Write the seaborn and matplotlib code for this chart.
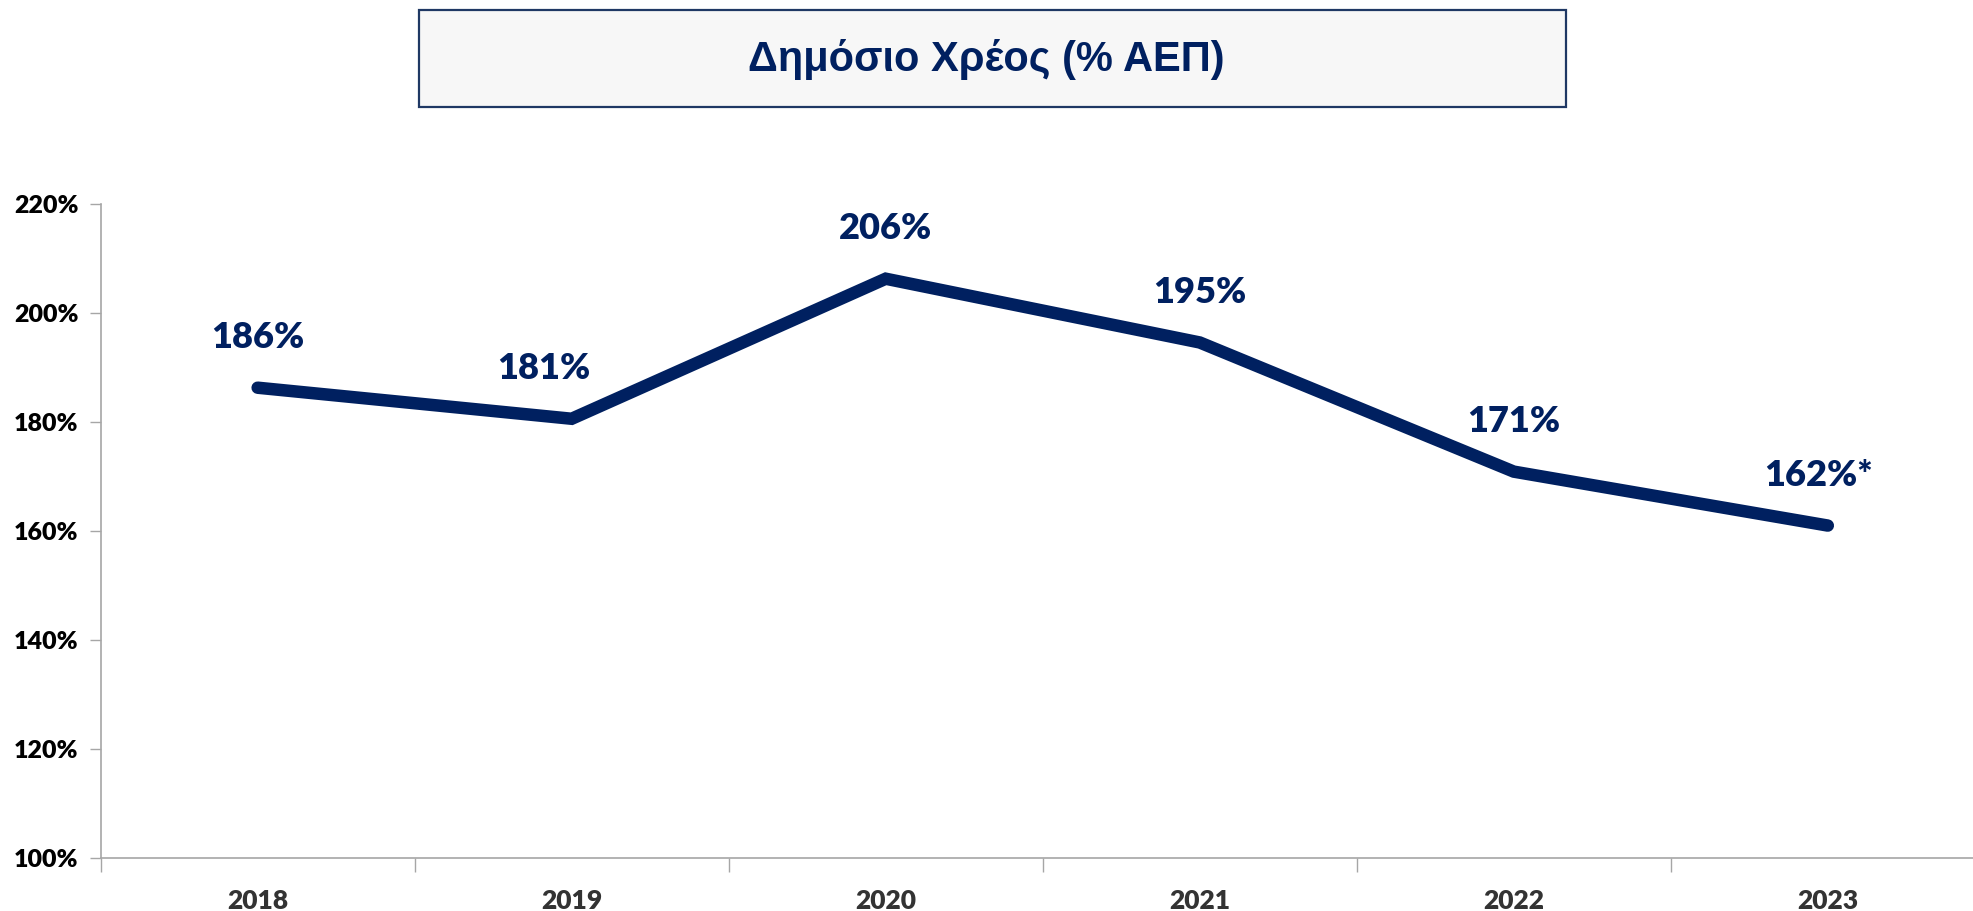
import pandas as pd
import matplotlib
matplotlib.use("Agg")
import matplotlib.pyplot as plt
from matplotlib.patches import Rectangle
from matplotlib.ticker import FixedLocator, FuncFormatter
import seaborn as sns

# ---- data ----
years = ["2018", "2019", "2020", "2021", "2022", "2023"]
debt_pct = [186.3, 180.6, 206.3, 194.6, 170.9, 161.0]
point_labels = ["186%", "181%", "206%", "195%", "171%", "162%*"]
label_shift = [0.0, -0.09, 0.0, 0.0, 0.0, -0.03]   # small manual nudges as in the original
y_ticks = [100, 120, 140, 160, 180, 200, 220]

navy = "#002060"

sns.set_style("white")
plt.rcParams['font.family'] = ['Lato', 'DejaVu Sans']

df = pd.DataFrame({"year": years, "debt": debt_pct})

fig = plt.figure(figsize=(19.73, 9.11), dpi=100)
ax = fig.add_axes([0.051, 0.0582, 0.955, 0.7178])

sns.lineplot(data=df, x="year", y="debt", ax=ax, color=navy, linewidth=9,
             solid_capstyle="round", solid_joinstyle="miter", sort=False)

for i, (v, lab) in enumerate(zip(debt_pct, point_labels)):
    ax.annotate(lab, (i + label_shift[i], v), xytext=(0, 24), textcoords="offset points",
                ha="center", va="bottom", fontsize=26, fontweight="heavy", color=navy)

ax.set_xlim(-0.5, len(years) - 0.5)
ax.set_ylim(100, 220)
ax.yaxis.set_major_locator(FixedLocator(y_ticks))
ax.yaxis.set_major_formatter(FuncFormatter(lambda v, p: f"{v:.0f}%"))
ax.xaxis.set_minor_locator(FixedLocator([i - 0.5 for i in range(len(years) + 1)]))

for s in ["top", "right"]:
    ax.spines[s].set_visible(False)
for s in ["left", "bottom"]:
    ax.spines[s].set_color("#a6a6a6")
    ax.spines[s].set_linewidth(1.2)

ax.tick_params(axis="y", which="major", length=8, width=1, color="#a6a6a6",
               labelsize=18, labelcolor="black", pad=8, left=True)
ax.tick_params(axis="x", which="major", length=0, labelsize=19, labelcolor="#333333", pad=22)
ax.tick_params(axis="x", which="minor", length=10, width=1, color="#a6a6a6", bottom=True)
for t in ax.get_xticklabels() + ax.get_yticklabels():
    t.set_fontweight("heavy")
ax.set_xlabel("")
ax.set_ylabel("")
ax.grid(False)

# title box
fig.patches.append(Rectangle((0.2124, 0.8826), 0.5813, 0.1065, transform=fig.transFigure,
                             facecolor="#f7f7f7", edgecolor="#1f3864", linewidth=1.6))
fig.text(0.5, 0.935, "Δημόσιο Χρέος (% ΑΕΠ)", ha="center", va="center",
         fontsize=30, fontweight="bold", color=navy, family=["Liberation Sans", "DejaVu Sans"])

fig.savefig("out.png", dpi=100)
